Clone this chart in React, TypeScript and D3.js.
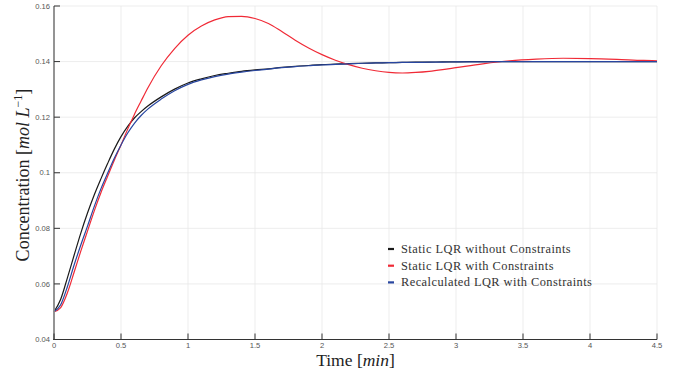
import React from "react";
import * as d3 from "d3";

const times = [0, 0.05, 0.1, 0.15, 0.2, 0.25, 0.3, 0.35, 0.4, 0.45, 0.5, 0.55, 0.6, 0.65, 0.7, 0.8, 0.9, 1.0, 1.1, 1.2, 1.3, 1.4, 1.5, 1.6, 1.7, 1.8, 1.9, 2.0, 2.1, 2.2, 2.3, 2.4, 2.5, 2.6, 2.7, 2.8, 2.9, 3.0, 3.2, 3.4, 3.6, 3.8, 4.0, 4.2, 4.4, 4.5];

const staticNoConstraints = [0.05, 0.0545, 0.0622, 0.0703, 0.0783, 0.0855, 0.092, 0.0978, 0.1033, 0.1085, 0.113, 0.1167, 0.1197, 0.122, 0.124, 0.1273, 0.1301, 0.1323, 0.1338, 0.135, 0.1358, 0.1365, 0.137, 0.1374, 0.1379, 0.1383, 0.1386, 0.1389, 0.1391, 0.1393, 0.1394, 0.1395, 0.1396, 0.1397, 0.1398, 0.1398, 0.1399, 0.1399, 0.14, 0.14, 0.14, 0.14, 0.14, 0.14, 0.14, 0.14];

const staticWithConstraints = [0.05, 0.0515, 0.0568, 0.0642, 0.0718, 0.079, 0.0862, 0.0928, 0.0987, 0.1045, 0.11, 0.1157, 0.121, 0.1258, 0.1305, 0.1385, 0.1447, 0.1495, 0.1528, 0.155, 0.1562, 0.1563, 0.1555, 0.1537, 0.1508, 0.1477, 0.1449, 0.1425, 0.1405, 0.1389, 0.1376, 0.1367, 0.1361, 0.1359, 0.1361, 0.1365, 0.1371, 0.1378, 0.1392, 0.1403, 0.1409, 0.1412, 0.1411, 0.1408, 0.1404, 0.1403];

const recalculatedWithConstraints = [0.05, 0.0525, 0.059, 0.0668, 0.074, 0.0808, 0.0878, 0.0942, 0.0998, 0.1052, 0.11, 0.1143, 0.1178, 0.1206, 0.1229, 0.1265, 0.1295, 0.1318, 0.1334, 0.1346, 0.1355, 0.1362, 0.1368, 0.1373, 0.1378, 0.1382, 0.1385, 0.1388, 0.139, 0.1392, 0.1394, 0.1395, 0.1396, 0.1397, 0.1397, 0.1398, 0.1398, 0.1399, 0.1399, 0.14, 0.14, 0.14, 0.14, 0.14, 0.14, 0.14];

const xTicks = [0, 0.5, 1, 1.5, 2, 2.5, 3, 3.5, 4, 4.5];
const xTickLabels = ["0", "0.5", "1", "1.5", "2", "2.5", "3", "3.5", "4", "4.5"];
const yTicks = [0.04, 0.06, 0.08, 0.1, 0.12, 0.14, 0.16];
const yTickLabels = ["0.04", "0.06", "0.08", "0.1", "0.12", "0.14", "0.16"];

const seriesNames = ["Static LQR without Constraints", "Static LQR with Constraints", "Recalculated LQR with Constraints"];
const seriesColors = ["#1a1a1a", "#f02a36", "#2846a0"];

export default function App() {
  const W = 678, H = 374;
  const x = d3.scaleLinear().domain([0, 4.5]).range([54, 657]);
  const y = d3.scaleLinear().domain([0.04, 0.16]).range([339.5, 6]);
  const allSeries = [staticNoConstraints, staticWithConstraints, recalculatedWithConstraints];
  const line = d3
    .line<number>()
    .x((_, i) => x(times[i]))
    .y((d) => y(d))
    .curve(d3.curveMonotoneX);

  const tickFont = "'Liberation Sans', Arial, sans-serif";
  const serif = "'Liberation Serif', 'Times New Roman', serif";

  return (
    <svg width={W} height={H} style={{ position: "absolute", left: 0, top: 0, background: "#fff" }}>
      <rect x={0} y={0} width={W} height={H} fill="#fff" />
      {/* grid */}
      {xTicks.map((t) => (
        <line key={"gx" + t} x1={x(t)} x2={x(t)} y1={y(0.16)} y2={y(0.04)} stroke="#e8e8e8" strokeWidth={0.8} />
      ))}
      {yTicks.map((t) => (
        <line key={"gy" + t} x1={x(0)} x2={x(4.5)} y1={y(t)} y2={y(t)} stroke="#e8e8e8" strokeWidth={0.8} />
      ))}
      {/* series */}
      {allSeries.map((s, i) => (
        <path key={"s" + i} d={line(s) || ""} fill="none" stroke={seriesColors[i]} strokeWidth={1.2} />
      ))}
      {/* axes */}
      <line x1={x(0)} x2={x(0)} y1={y(0.16)} y2={y(0.04)} stroke="#8a8a8a" strokeWidth={1.8} />
      <line x1={x(0) - 0.9} x2={x(4.5)} y1={y(0.04)} y2={y(0.04)} stroke="#333" strokeWidth={1.2} />
      {yTicks.map((t, i) => (
        <g key={"yt" + t}>
          <line x1={x(0)} x2={x(0) + 6} y1={y(t)} y2={y(t)} stroke="#333" strokeWidth={1} />
          <text x={x(0) - 4} y={y(t)} dy="0.35em" textAnchor="end" fontFamily={tickFont} fontSize={7.6} fill="#555">
            {yTickLabels[i]}
          </text>
        </g>
      ))}
      {xTicks.map((t, i) => (
        <g key={"xt" + t}>
          <line x1={x(t)} x2={x(t)} y1={y(0.04)} y2={y(0.04) - 6} stroke="#333" strokeWidth={1} />
          <text x={x(t)} y={345} dy="0.35em" textAnchor="middle" fontFamily={tickFont} fontSize={7.6} fill="#555">
            {xTickLabels[i]}
          </text>
        </g>
      ))}
      {/* axis titles */}
      <text x={355.5} y={366} textAnchor="middle" fontFamily={serif} fontSize={17.5} fill="#222">
        Time [<tspan fontStyle="italic">min</tspan>]
      </text>
      <text
        x={29}
        y={175}
        transform="rotate(-90, 29, 175)"
        textAnchor="middle"
        fontFamily={serif}
        fontSize={18}
        fill="#222"
      >
        Concentration [<tspan fontStyle="italic">mol</tspan> <tspan fontStyle="italic">L</tspan>
        <tspan fontSize={12} dy={-7}>−1</tspan>
        <tspan dy={7}>]</tspan>
      </text>
      {/* legend */}
      {seriesNames.map((n, i) => (
        <g key={"lg" + i}>
          <line x1={388} x2={394} y1={249 + i * 16.7} y2={249 + i * 16.7} stroke={seriesColors[i]} strokeWidth={2.2} />
          <text x={401} y={253 + i * 16.7} fontFamily={serif} fontSize={12.4} letterSpacing={0.45} fill="#333">
            {n}
          </text>
        </g>
      ))}
    </svg>
  );
}
